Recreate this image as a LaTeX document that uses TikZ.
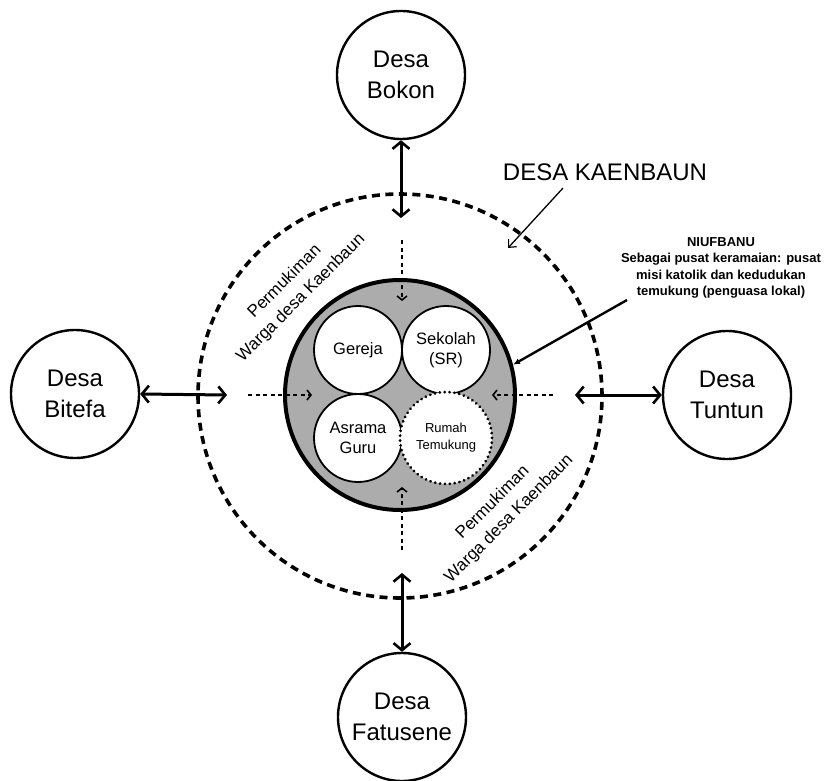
\documentclass[tikz,border=0pt]{standalone}
\usepackage{fontspec}
\setmainfont{Liberation Sans}
\usetikzlibrary{arrows.meta}
\begin{document}
\begin{tikzpicture}[x=1pt,y=-1pt,
  desa/.style={circle,draw,line width=2.4pt,minimum size=128pt,inner sep=0pt,
    align=center,font=\fontsize{24}{31}\selectfont},
  link/.style={line width=3pt,
    {Straight Barb[length=7pt,width=17pt,line width=2.6pt]}-{Straight Barb[length=7pt,width=17pt,line width=2.6pt]}},
  guide/.style={line width=2pt,dash pattern=on 4pt off 3.5pt,
    -{Straight Barb[length=4pt,width=10pt,line width=1.6pt]}},
  place/.style={circle,draw,line width=1.8pt,fill=white,minimum size=88pt,inner sep=0pt,
    align=center,font=\fontsize{16.5}{20}\selectfont},
  settle/.style={rotate=45,align=center,font=\fontsize{17}{23}\selectfont},
]
\useasboundingbox (0,0) rectangle (824,781);

% village boundary
\node (kaen) [circle,draw,line width=3.6pt,dash pattern=on 8pt off 5.5pt,
  minimum size=404pt,inner sep=0pt] at (400,396) {};

% neighbouring villages
\node (bokon) [desa] at (401,75) {Desa\\Bokon};
\node (bitefa) [desa] at (75,394) {Desa\\Bitefa};
\node (tuntun) [desa] at (727,395) {Desa\\Tuntun};
\node (fatusene) [desa] at (402,717) {Desa\\Fatusene};

\coordinate (eN) at (401,218);
\coordinate (eW) at (227,395);
\coordinate (eE) at (575,395);
\coordinate (eS) at (402,573);
\draw[link] (bokon.south) -- (eN);
\draw[link] (bitefa.east) -- (eW);
\draw[link] (eE) -- (tuntun.west);
\draw[link] (eS) -- (fatusene.north);

% Niufbanu centre
\node (niuf) [circle,draw,line width=4pt,fill=gray!65,minimum size=230pt,inner sep=0pt] at (400,395) {};

\coordinate (gN) at (402,240);
\coordinate (gW) at (248,395);
\coordinate (gE) at (553,395);
\coordinate (gS) at (402,550);
\coordinate (hN) at (402,301);
\coordinate (hW) at (312,395);
\coordinate (hE) at (492,395);
\coordinate (hS) at (402,487);
\draw[guide] (gN) -- (hN);
\draw[guide] (gW) -- (hW);
\draw[guide] (gE) -- (hE);
\draw[guide] (gS) -- (hS);

\node (gereja) [place] at (358,350) {Gereja};
\node (sekolah) [place] at (446,350) {Sekolah\\(SR)};
\node (asrama) [place] at (358,438) {Asrama\\Guru};
\node (rumah) [place,minimum size=92pt,line width=3pt,dash pattern=on 0.1pt off 4.8pt,
  line cap=round,font=\fontsize{13}{17}\selectfont] at (446,438) {Rumah\\Temukung};

% settlement labels
\node (setNW) [settle] at (293,290) {Permukiman\\Warga desa Kaenbaun};
\node (setSE) [settle] at (501,511) {Permukiman\\Warga desa Kaenbaun};

% village name with pointer
\node (kaenLbl) [font=\fontsize{24}{28}\selectfont] at (605,172) {DESA KAENBAUN};
\coordinate (kaenTip) at (508,248);
\draw[line width=1.3pt,-{Straight Barb[length=6pt,width=11pt,line width=1.2pt]}]
  ([xshift=-42pt,yshift=-4pt]kaenLbl.south) -- (kaenTip);

% Niufbanu description with pointer
\node (desc) [align=center,font=\fontsize{13}{16.5}\selectfont\bfseries] at (721,268)
  {NIUFBANU\\Sebagai pusat keramaian: pusat\\misi katolik dan kedudukan\\temukung (penguasa lokal)};
\coordinate (descStart) at (627,300);
\draw[line width=2.4pt,-{Latex[length=7pt,width=6pt]}] (descStart) -- (niuf.15);
\end{tikzpicture}
\end{document}
